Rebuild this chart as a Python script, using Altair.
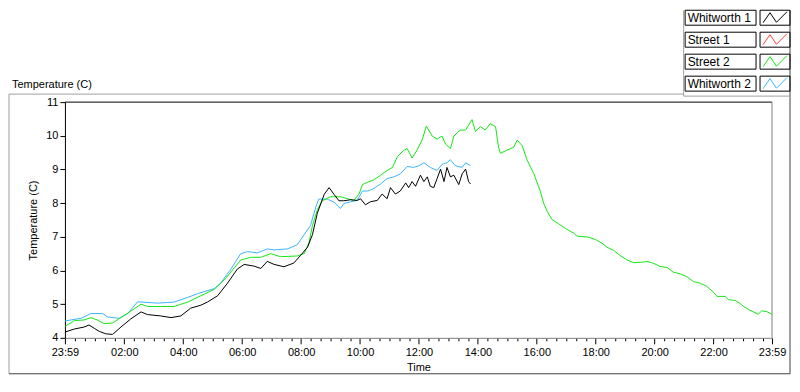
import altair as alt
import pandas as pd

# ---------------- data ----------------
series_names = ["Whitworth 1", "Street 1", "Street 2", "Whitworth 2"]
series_colors = ["#000000", "#ff3c3c", "#14e614", "#3cb4ff"]

# minutes after midnight (-1 = 23:59 of previous day)
w1_min = [-1, 18, 38, 48, 59, 69, 82, 96, 113, 133, 154, 167, 194, 215, 235, 255, 276, 289, 310, 330,
          350, 364, 384, 398, 411, 425, 445, 465, 479, 493, 503, 513, 527, 537, 547, 557, 567, 581, 594, 601,
          611, 621, 635, 645, 655, 662, 672, 682, 693, 699, 706, 713, 723, 730, 737, 743, 750, 757, 764, 771,
          777, 784, 791, 801, 808, 815, 821, 825]
w1_val = [4.17, 4.26, 4.32, 4.38, 4.28, 4.19, 4.12, 4.1, 4.32, 4.56, 4.77, 4.69, 4.65, 4.6, 4.65, 4.88, 4.97, 5.06, 5.25, 5.62,
          6.04, 6.18, 6.13, 6.06, 6.27, 6.18, 6.11, 6.22, 6.45, 6.69, 7.06, 7.7, 8.26, 8.46, 8.26, 8.07, 8.07, 8.1, 8.08, 8.13,
          7.95, 8.04, 8.08, 8.27, 8.13, 8.46, 8.27, 8.36, 8.6, 8.46, 8.64, 8.5, 8.83, 8.64, 8.78, 8.5, 8.46, 8.73, 9.01, 8.64,
          9.06, 8.78, 8.83, 8.55, 8.87, 9.01, 8.64, 8.57]

s2_min = [-1, 18, 38, 52, 65, 79, 96, 113, 133, 154, 167, 194, 221, 249, 276, 303, 323, 344, 357, 377,
          398, 418, 438, 472, 486, 496, 503, 513, 523, 540, 560, 587, 598, 605, 615, 628, 642, 655, 666, 676,
          689, 696, 706, 716, 727, 735, 747, 757, 767, 774, 784, 791, 804, 815, 821, 828, 835, 845, 855, 865,
          876, 882, 886, 899, 913, 920, 930, 940, 954, 967, 974, 981, 991, 1004, 1018, 1035, 1042, 1065, 1079, 1093,
          1103, 1116, 1130, 1143, 1157, 1177, 1184, 1198, 1211, 1225, 1238, 1252, 1266, 1279, 1293, 1306, 1320, 1327, 1344, 1350,
          1364, 1374, 1381, 1394, 1411, 1418, 1428, 1439]
s2_val = [4.34, 4.51, 4.53, 4.6, 4.53, 4.42, 4.44, 4.6, 4.79, 5.0, 4.93, 4.93, 4.93, 5.06, 5.25, 5.44, 5.71, 6.08, 6.31, 6.39,
          6.39, 6.5, 6.41, 6.43, 6.5, 6.82, 7.33, 7.8, 8.07, 8.19, 8.19, 8.08, 8.27, 8.55, 8.62, 8.69, 8.83, 8.97, 9.06, 9.38,
          9.57, 9.62, 9.34, 9.57, 9.9, 10.29, 9.99, 9.9, 9.99, 9.76, 9.62, 9.99, 10.17, 10.17, 10.31, 10.48, 10.13, 10.27, 10.17, 10.36,
          10.27, 9.66, 9.48, 9.57, 9.66, 9.87, 9.71, 9.29, 8.87, 8.36, 7.99, 7.76, 7.51, 7.39, 7.25, 7.11, 7.02, 6.99, 6.92, 6.81,
          6.69, 6.6, 6.44, 6.32, 6.23, 6.25, 6.27, 6.21, 6.12, 6.09, 5.95, 5.9, 5.81, 5.67, 5.62, 5.53, 5.35, 5.23, 5.23, 5.13,
          5.11, 5.02, 4.93, 4.82, 4.7, 4.8, 4.78, 4.7]

w2_min = [-1, 32, 52, 76, 86, 109, 127, 147, 188, 221, 249, 269, 303, 316, 337, 357, 371, 391, 411, 425,
          452, 472, 486, 499, 510, 516, 533, 547, 560, 567, 581, 594, 605, 615, 625, 642, 655, 669, 682, 696,
          709, 720, 730, 743, 757, 767, 777, 784, 794, 808, 815, 825]
w2_val = [4.5, 4.58, 4.72, 4.72, 4.62, 4.58, 4.72, 5.07, 5.03, 5.06, 5.2, 5.31, 5.46, 5.62, 6.04, 6.5, 6.56, 6.52, 6.64, 6.61,
          6.64, 6.76, 7.06, 7.33, 7.89, 8.12, 8.12, 8.03, 7.84, 7.99, 8.04, 8.08, 8.36, 8.36, 8.41, 8.57, 8.73, 8.78, 8.87, 9.09,
          9.06, 9.11, 9.2, 9.06, 8.97, 9.15, 9.2, 9.29, 9.11, 9.06, 9.2, 9.11]

y_ticks = [4, 5, 6, 7, 8, 9, 10, 11]
x_major = [-1, 120, 240, 360, 480, 600, 720, 840, 960, 1080, 1200, 1320, 1439]
x_minor = list(range(20, 1440, 20))

# ---------------- tables ----------------
rows = []
for name, mins, vals in [("Whitworth 2", w2_min, w2_val), ("Street 2", s2_min, s2_val), ("Whitworth 1", w1_min, w1_val)]:
    for m, v in zip(mins, vals):
        rows.append({"series": name, "minute": m, "temp": v})
df = pd.DataFrame(rows)
legend_df = pd.DataFrame({"series": series_names})
one = pd.DataFrame({"k": [0]})
title_df = pd.DataFrame({"label": ["Temperature (C)"]})

W, H = 708, 236
FONT = "Liberation Sans"
tick_values = sorted(set(x_major + x_minor))
major_test = "datum.value % 120 == 0 || datum.value < 0 || datum.value > 1430"
label_expr = ("datum.value < 0 || datum.value > 1430 ? '23:59' : (datum.value % 120 == 0 ? "
              "(datum.value < 600 ? '0' : '') + floor(datum.value / 60) + ':00' : '')")

color_scale = alt.Scale(domain=series_names, range=series_colors)

lines = alt.Chart(df).mark_line(strokeWidth=1, interpolate="linear").encode(
    x=alt.X("minute:Q",
            scale=alt.Scale(domain=[-1, 1439], nice=False, zero=False),
            axis=alt.Axis(orient="bottom", values=tick_values, labelExpr=label_expr,
                          tickSize={"condition": {"test": major_test, "value": 6}, "value": 3},
                          tickColor="black", domainColor="#808080", grid=False,
                          labelOverlap=False, labelFlush=False, labelPadding=3,
                          labelFont=FONT, labelFontSize=11, labelColor="black",
                          title="Time", titleFont=FONT, titleFontSize=11, titleFontWeight="normal",
                          titleColor="black", titleY=30, titleBaseline="middle")),
    y=alt.Y("temp:Q",
            scale=alt.Scale(domain=[4, 11], nice=False, zero=False),
            axis=alt.Axis(values=y_ticks, tickSize=5, tickColor="black", domainColor="black",
                          grid=False, labelPadding=2, labelFont=FONT, labelFontSize=11,
                          labelColor="black", title="Temperature (C)", titleFont=FONT,
                          titleFontSize=11, titleFontWeight="normal", titleColor="black",
                          titleX=-31, titleY=H / 2, titleAngle=270, titleAlign="center",
                          titleBaseline="middle")),
    color=alt.Color("series:N", scale=color_scale, legend=None),
    detail="series:N",
)

y_leg = alt.Y("series:N", scale=alt.Scale(type="point", domain=series_names,
                                          range=[-84.5, -18.5], padding=0), axis=None)

text_box = alt.Chart(legend_df).mark_point(
    shape="M-1,-0.211L1,-0.211L1,0.211L-1,0.211Z", size=71 * 71, filled=False,
    stroke="black", strokeWidth=1, opacity=1).encode(x=alt.value(656.5), y=y_leg)
sym_box = alt.Chart(legend_df).mark_point(
    shape="M-1,-0.5L1,-0.5L1,0.5L-1,0.5Z", size=900, filled=False,
    stroke="black", strokeWidth=1, opacity=1).encode(x=alt.value(711), y=y_leg)
zig = alt.Chart(legend_df).mark_point(
    shape="M-1,0.42L-0.42,-0.42L0.12,0.38L1,-0.5", size=576, filled=False,
    strokeWidth=1, opacity=1).encode(
    x=alt.value(711), y=y_leg,
    color=alt.Color("series:N", scale=color_scale, legend=None))
leg_text = alt.Chart(legend_df).mark_text(
    align="left", baseline="middle", font=FONT, fontSize=12, color="black").encode(
    x=alt.value(623.5), y=y_leg, text="series:N")

top_label = alt.Chart(title_df).mark_text(
    align="left", baseline="middle", font=FONT, fontSize=11, color="black").encode(
    x=alt.value(-53), y=alt.value(-17), text="label:N")


def rule(x1, x2, y1, y2, color):
    return alt.Chart(one).mark_rule(color=color, strokeWidth=1).encode(
        x=alt.value(x1), x2=alt.value(x2), y=alt.value(y1), y2=alt.value(y2))


deco = [
    rule(0, W, 0, 0, "black"),                 # plot top border
    rule(W, W, 0, H, "#808080"),               # plot right border
    rule(-56, 619.5, -8, -8, "#a0a0a0"),       # panel top
    rule(-56, -56, -8, H + 36, "#a0a0a0"),     # panel left
    rule(-56, W + 18, H + 36, H + 36, "#404040"),  # panel bottom
    rule(W + 18, W + 18, -92, H + 36, "#404040"),  # panel right
    rule(619.5, 619.5, -92, -6, "#a0a0a0"),    # legend container left
    rule(619.5, W + 18, -6, -6, "#a0a0a0"),    # legend container bottom
]

chart = alt.layer(
    *deco, lines, text_box, sym_box, zig, leg_text, top_label
).resolve_scale(y="independent").properties(
    width=W, height=H, padding=0, background="white"
).configure_view(strokeWidth=0)

chart.save("out.html", embed_options={"renderer": "svg", "actions": False})
